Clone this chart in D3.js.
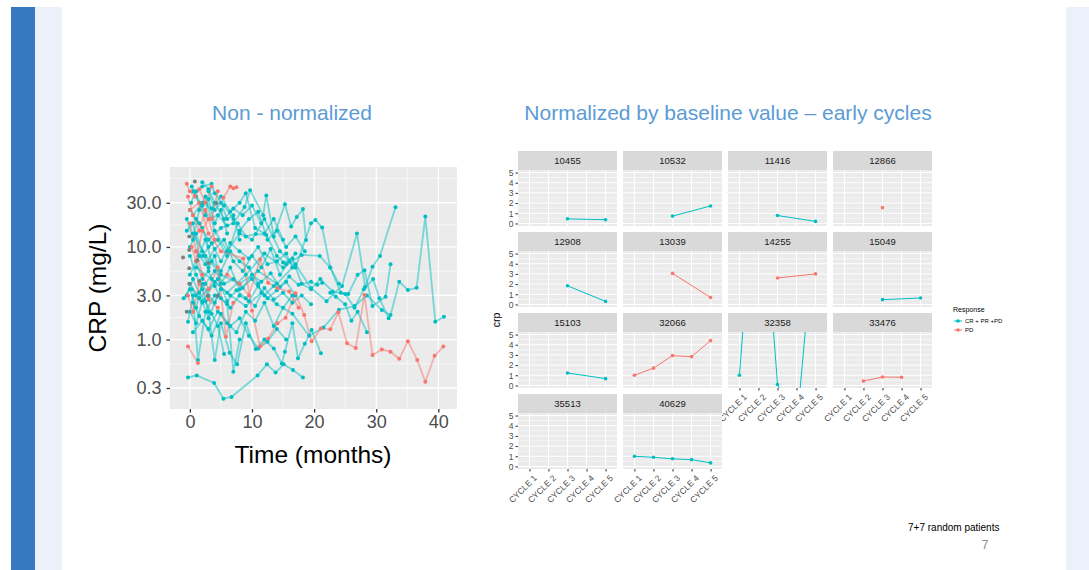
<!DOCTYPE html>
<html>
<head>
<meta charset="utf-8">
<script src="https://cdn.jsdelivr.net/npm/d3@7"></script>
<style>
  body { margin: 0; background: #fff; }
  svg { display: block; font-family: "Liberation Sans", Arial, sans-serif; }
</style>
</head>
<body>
<svg id="slide"></svg>
<script>
// ---------- data ----------
const groupNames = ['CR + PR +PD', 'PD'];
const timeTicks = [0, 10, 20, 30, 40];
const crpTicks = [0.3, 1, 3, 10, 30];

// left chart: one entry per patient, [group, [[month, crp mg/L], ...]]
// R = CR + PR +PD, P = PD, N = missing response
const trajectories = [
  ['R', [[-0.3,0.39],[1.1,0.41],[3.9,0.34],[5.4,0.23],[6.7,0.24],[10.9,0.41],[12.4,0.54],[13.8,0.44],[15.1,0.54],[16.6,0.47],[18.2,0.39]]],
  ['R', [[0.3,3.5],[2,2.5],[4,4.2],[6.5,3],[9,2.3],[11.5,3.2],[14,2.4],[16.5,1.9],[19.2,1.1],[21.5,1.35],[24,2.1],[26.5,2.3],[28.5,3.0],[30.9,2.08],[32.3,1.84],[33.7,4.2],[35.1,3.43],[36.5,3.63],[37.9,21.3],[39.5,1.56],[40.9,1.76]]],
  ['R', [[0.5,14],[2.5,8],[5,5],[8,4],[11,5.5],[14,4],[17,6.5],[19.5,3.6],[22,2.6],[24.5,3.8],[26.9,14],[28.2,3.7],[29.4,6.1],[30.6,8.0],[33.1,26.8]]],
  ['R', [[1,6],[3.5,4.5],[6,3.2],[9,5],[12,8.5],[15,6],[18,8.2],[20.9,8],[22.6,6],[24.3,3.2],[25.5,3.1],[27,5],[28.1,5.6],[29.4,2.3],[31.5,2.9],[32.3,6.5]]],
  ['R', [[0,25],[1.5,18],[3,12],[5,16],[7,18],[8.8,27],[9.7,41],[11.8,22],[12.3,36],[13.5,13],[15.3,29],[16.3,16.6],[17.2,21],[18.2,25.7],[18.7,11.9]]],
  ['R', [[0.2,30],[1,40],[2,45],[3.5,48],[4,38],[5.5,28],[7,20]]],
  ['R', [[-0.5,20],[0.5,12],[1.5,25],[2.5,35],[4,15],[6,9],[8,14],[10,12],[12,20],[14.5,9],[17,6],[19.5,18],[20.2,19.6],[21.3,16.2],[22.6,6],[24,4]]],
  ['R', [[0,8],[1,5],[2,3.5],[3,2],[4,0.6],[5,1.5],[6.4,0.72],[7.6,0.54],[9,1.5],[10.6,0.79],[12,1.0],[13.5,0.8],[14.8,0.55],[15.3,0.74],[16.5,1.5],[17.4,0.63],[18.5,0.9],[19.6,1.27],[21.1,0.71]]],
  ['R', [[-0.3,1.56],[0.5,3],[1.3,0.6],[2.5,2],[4,3]]],
  ['R', [[-1,2.79],[0,3.5],[1,2.2],[2,4],[3,3],[4,2.5],[5,3.5]]],
  ['R', [[0.5,40],[1.5,30],[2.5,22],[3,33],[4,18],[5,25],[6,14]]],
  ['R', [[0,10],[1,14],[2,9],[3,6],[4,8],[5,4],[6.5,6],[8,3.5],[10,4.5],[12,3],[13.5,3.8]]],
  ['R', [[0.5,2.5],[1.5,1.8],[3,1.3],[4.5,2],[6,1.5],[7.5,1.2],[9,2],[10.5,1.6],[12,2.5],[13.5,1.4],[15,2.2],[16.5,3]]],
  ['R', [[1,20],[2,16],[3,10],[4.5,12],[6,8],[7.7,18],[9,13],[10.6,13.8],[12.3,13.5],[14,8],[15.5,6.5],[17,8.5]]],
  ['R', [[-0.5,15],[0.5,18],[1.5,8],[2.5,12],[3.5,7],[5,5.5],[6.5,9],[8,7],[9.5,6],[11,4]]],
  ['R', [[0,5],[1,7],[2,4.5],[3,5.5],[4,3.8],[5,2.8],[6.5,2.2],[8,3],[9.5,2.6],[11,3.8],[12.5,2.8],[14,3.4],[15.5,4.2],[17,3]]],
  ['R', [[0.3,45],[1,35],[2,28],[3,20],[4.5,22],[6,17]]],
  ['R', [[-0.5,3],[0.5,4.5],[1.5,3.2],[2.5,2.6],[3.5,1.9],[4.5,1.4],[5.5,0.7]]],
  ['R', [[2,8],[3.5,11],[5,7],[6.5,11],[8,9],[9.5,7.5],[11,10],[12.5,6.5],[14,7],[15.5,8.5],[16.5,6]]],
  ['R', [[1,3],[2.5,4],[4,5.5],[5.5,4],[7,4.5],[8.5,3.6],[10,5],[11.5,4.2],[13,5.2],[14.5,3.7],[16,4.8],[17.5,3.9],[19.5,4.2],[20.5,3.9],[21.3,4.1]]],
  ['R', [[0.5,1.2],[2,1.6],[3.5,1.1],[5,1.9],[6.5,1.4],[8,1.7],[9.5,1.1],[11,0.8],[12.5,0.95],[14,1.3],[15.5,1.0]]],
  ['R', [[3,40],[4,25],[5,30],[6,20],[7,22],[8,12]]],
  ['R', [[0,2],[1,1.5],[2,2.6],[3,1.7],[4.5,3],[6,2.4],[7,0.45],[8,1.0]]],
  ['R', [[15,6.8],[16.5,7.5],[18,4],[19.5,3.5],[21,4.5],[23,3.3],[25,3.1],[26.5,2.2],[28,3.5],[29.5,4.5],[30.5,2.8],[32,1.7]]],
  ['R', [[22.6,3.2],[23.5,2.9],[25,2.4],[26,1.6],[27,2.0],[28.5,1.2]]],
  ['R', [[0.5,22],[2,30],[3.5,26],[5,35],[6.5,24],[8,30],[9,38],[10.5,16],[12,14],[13.5,20],[15,12]]],
  ['R', [[1,9],[2.5,6.5],[4,9.5],[5.5,12],[7,7],[8.5,5.5],[10,8],[11.5,6],[13,9.5],[14.5,5],[16,7]]],
  ['R', [[0,4],[1.5,2.8],[3,3.5],[4.5,4.5],[6,2.6],[7.5,3.4],[9,2.8],[10.5,2.3],[12,3.6],[13.5,2.7],[15,3.2],[16.5,2.5],[18,3.0],[19.5,2.4]]],
  ['R', [[2,50],[3,42],[4,30],[5.5,20],[7,26],[8.5,22],[10,28],[11.5,18]]],
  ['R', [[8,15],[9.5,20],[11,24],[12.5,12],[14,15],[15.5,10],[17,13],[18.5,9]]],
  ['P', [[-0.3,0.84],[1.3,0.56]]],
  ['P', [[0,25],[1.5,30],[3,14],[5,9],[8.6,7.5],[10.0,2.05],[11.3,0.84],[12.6,1.03],[14.1,1.5],[15.4,1.72],[17.0,3.16],[18.4,1.84],[19.6,0.96],[21.1,1.32],[22.6,1.29],[23.9,1.97],[25.3,0.91],[26.7,0.81],[28.1,3.03],[29.4,0.68],[30.9,0.78],[32.3,0.74],[33.7,0.62],[35.1,0.96],[36.6,0.60],[37.9,0.35],[39.4,0.67],[40.8,0.84]]],
  ['P', [[-0.5,48],[0,40],[0.8,35],[1.5,42],[2.5,30],[3.5,45]]],
  ['P', [[-0.3,35],[0.5,22],[1.5,15],[2.5,25],[3.5,20],[4.5,40]]],
  ['P', [[0,18],[1,9],[2,5],[3,3.5],[4.5,6],[5.8,1.07],[7,2.5]]],
  ['P', [[5.4,34],[6.5,45],[7,43],[7.5,44]]],
  ['P', [[-0.3,3],[0.5,2],[1.5,4],[3,2.7],[4.5,2.2]]],
  ['P', [[0.3,10],[1,7],[2,15],[3,20],[4,12]]],
  ['P', [[6,5],[8,4],[9.5,3],[11.3,7.3],[12.6,4.1],[14.1,3.6],[16,3.3],[17.5,2.2]]],
  ['N', [[-1.1,7.7]]], ['N', [[-0.1,13]]], ['N', [[-0.1,9.3]]], ['N', [[-0.1,5.9]]],
  ['N', [[-0.1,4.0]]], ['N', [[-0.5,2.0]]], ['N', [[1.2,7.2]]], ['N', [[3.0,6.7]]],
  ['N', [[4.3,29.6]]], ['N', [[0.8,51]]], ['N', [[1.5,4.3]]], ['N', [[2.9,2.95]]], ['N', [[4.4,2.95]]]
];

// right chart: crp normalised by baseline, 7+7 random patients
const cycles = ['CYCLE 1', 'CYCLE 2', 'CYCLE 3', 'CYCLE 4', 'CYCLE 5'];
const patientIds = ['10455','10532','11416','12866','12908','13039','14255','15049','15103','32066','32358','33476','35513','40629'];
const patientGroup = ['R','R','R','P','R','P','P','R','R','P','R','P','R','R'];
const crpByCycle = [
  [null, null, 0.45, null, 0.37],
  [null, null, 0.72, null, 1.72],
  [null, null, 0.78, null, 0.2],
  [null, null, 1.55, null, null],
  [null, null, 1.83, null, 0.3],
  [null, null, 3.05, null, 0.68],
  [null, null, 2.6, null, 3.0],
  [null, null, 0.47, null, 0.63],
  [null, null, 1.23, null, 0.67],
  [1.0, 1.7, 2.93, 2.83, 4.4],
  [1.0, 25, 0.1, -4.2, 16.5],
  [null, 0.43, 0.83, 0.8, null],
  [null, null, null, null, null],
  [1.0, 0.9, 0.75, 0.67, 0.35]
];
const facetTicks = [0, 1, 2, 3, 4, 5];

// ---------- page ----------
const W = 1089, H = 570;
const colour = { R: '#00BFC4', P: '#F8766D', N: '#7F7F7F' };
const svg = d3.select('#slide').attr('width', W).attr('height', H);

svg.append('rect').attr('x', 11).attr('y', 7).attr('width', 24).attr('height', H - 7).attr('fill', '#3779C1');
svg.append('rect').attr('x', 35).attr('y', 7).attr('width', 27).attr('height', H - 7).attr('fill', '#EAF1FA');
svg.append('rect').attr('x', 1066).attr('y', 7).attr('width', 23).attr('height', H - 7).attr('fill', '#EAF1FA');

svg.append('text').attr('x', 292).attr('y', 120).attr('text-anchor', 'middle')
  .style('font-size', '21px').style('fill', '#5B9BD5').text('Non - normalized');
svg.append('text').attr('x', 728).attr('y', 120).attr('text-anchor', 'middle')
  .style('font-size', '21px').style('fill', '#5B9BD5').text('Normalized by baseline value \u2013 early cycles');

// ---------- left chart ----------
const L = { left: 170, right: 457, top: 167, bottom: 409 };
const x = d3.scaleLinear().domain([-3.2, 43]).range([L.left, L.right]);
const y = d3.scaleLog().domain([0.178, 73]).range([L.bottom, L.top]);

const left = svg.append('g');
left.append('rect').attr('x', L.left).attr('y', L.top)
  .attr('width', L.right - L.left).attr('height', L.bottom - L.top).attr('fill', '#EBEBEB');

// minor grid: midpoints of the breaks (log space for y)
const lg = crpTicks.map(Math.log10);
const yMinor = lg.slice(1).map((v, i) => Math.pow(10, (v + lg[i]) / 2));
yMinor.push(Math.pow(10, lg[lg.length - 1] + (lg[1] - lg[0]) / 2));
const xMinor = timeTicks.map(t => t + 5);

left.selectAll('.ymin').data(yMinor).enter().append('line')
  .attr('x1', L.left).attr('x2', L.right).attr('y1', d => y(d)).attr('y2', d => y(d))
  .attr('stroke', '#fff').attr('stroke-width', 0.6);
left.selectAll('.xmin').data(xMinor.filter(d => x(d) < L.right)).enter().append('line')
  .attr('y1', L.top).attr('y2', L.bottom).attr('x1', d => x(d)).attr('x2', d => x(d))
  .attr('stroke', '#fff').attr('stroke-width', 0.6);
left.selectAll('.ymaj').data(crpTicks).enter().append('line')
  .attr('x1', L.left).attr('x2', L.right).attr('y1', d => y(d)).attr('y2', d => y(d))
  .attr('stroke', '#fff').attr('stroke-width', 1.3);
left.selectAll('.xmaj').data(timeTicks).enter().append('line')
  .attr('y1', L.top).attr('y2', L.bottom).attr('x1', d => x(d)).attr('x2', d => x(d))
  .attr('stroke', '#fff').attr('stroke-width', 1.3);

const line = d3.line().x(d => x(d[0])).y(d => y(d[1]));
left.selectAll('.traj').data(trajectories).enter().append('path')
  .attr('d', d => line(d[1]))
  .attr('fill', 'none').attr('stroke', d => colour[d[0]])
  .attr('stroke-width', 1.8).attr('stroke-opacity', 0.5);
const pts = trajectories.flatMap(d => d[1].map(p => [d[0], p[0], p[1]]));
left.selectAll('.pt').data(pts).enter().append('circle')
  .attr('cx', d => x(d[1])).attr('cy', d => y(d[2])).attr('r', 2)
  .attr('fill', d => colour[d[0]]);

const xAxis = left.append('g').attr('transform', `translate(0,${L.bottom})`)
  .call(d3.axisBottom(x).tickValues(timeTicks).tickSize(3.5).tickPadding(3));
const yAxis = left.append('g').attr('transform', `translate(${L.left},0)`)
  .call(d3.axisLeft(y).tickValues(crpTicks).tickFormat(d3.format('.1f')).tickSize(3.5).tickPadding(5));
[xAxis, yAxis].forEach(a => {
  a.select('.domain').remove();
  a.selectAll('line').attr('stroke', '#333').attr('stroke-width', 1.3);
  a.selectAll('text').style('font-size', '18px').style('fill', '#4D4D4D')
    .style('font-family', '"Liberation Sans", Arial, sans-serif');
});

left.append('text').attr('x', 313).attr('y', 463).attr('text-anchor', 'middle')
  .style('font-size', '24.5px').style('fill', '#000').text('Time (months)');
left.append('text').attr('transform', 'translate(106,288) rotate(-90)').attr('text-anchor', 'middle')
  .style('font-size', '24.5px').style('fill', '#000').text('CRP (mg/L)');

// ---------- right chart: facets ----------
const colX = [518, 623, 728, 833];
const rowY = [151, 232, 313, 394];
const panelW = 99, stripH = 19, panelH = 56;
const fx = d3.scalePoint().domain(cycles).range([0, panelW]).padding(0.6);
const fy = d3.scaleLinear().domain([-0.25, 5.25]).range([panelH, 0]);
const fMinor = facetTicks.slice(1).map(t => t - 0.5);
const right = svg.append('g');
const defs = svg.append('defs');

patientIds.forEach((id, i) => {
  const col = i % 4, row = Math.floor(i / 4);
  const px = colX[col], py = rowY[row] + stripH;
  const g = right.append('g').attr('transform', `translate(${px},${py})`);

  defs.append('clipPath').attr('id', 'clip' + i)
    .append('rect').attr('width', panelW).attr('height', panelH);

  right.append('rect').attr('x', px).attr('y', rowY[row]).attr('width', panelW).attr('height', stripH)
    .attr('fill', '#D9D9D9');
  right.append('text').attr('x', px + panelW / 2).attr('y', rowY[row] + 13).attr('text-anchor', 'middle')
    .style('font-size', '9.5px').style('fill', '#1A1A1A').text(id);

  g.append('rect').attr('width', panelW).attr('height', panelH).attr('fill', '#EBEBEB');
  g.selectAll('.mn').data(fMinor).enter().append('line')
    .attr('x1', 0).attr('x2', panelW).attr('y1', d => fy(d)).attr('y2', d => fy(d))
    .attr('stroke', '#fff').attr('stroke-width', 0.5);
  g.selectAll('.mj').data(facetTicks).enter().append('line')
    .attr('x1', 0).attr('x2', panelW).attr('y1', d => fy(d)).attr('y2', d => fy(d))
    .attr('stroke', '#fff').attr('stroke-width', 1);
  g.selectAll('.vj').data(cycles).enter().append('line')
    .attr('y1', 0).attr('y2', panelH).attr('x1', d => fx(d)).attr('x2', d => fx(d))
    .attr('stroke', '#fff').attr('stroke-width', 1);

  const vals = cycles.map((c, k) => [c, crpByCycle[i][k]]).filter(d => d[1] !== null);
  const plot = g.append('g').attr('clip-path', `url(#clip${i})`);
  plot.append('path')
    .attr('d', d3.line().x(d => fx(d[0])).y(d => fy(d[1]))(vals))
    .attr('fill', 'none').attr('stroke', colour[patientGroup[i]]).attr('stroke-width', 1);
  plot.selectAll('circle').data(vals).enter().append('circle')
    .attr('cx', d => fx(d[0])).attr('cy', d => fy(d[1])).attr('r', 1.8)
    .attr('fill', colour[patientGroup[i]]);

  if (col === 0) {
    const ya = g.append('g').call(d3.axisLeft(fy).tickValues(facetTicks)
      .tickFormat(d3.format('d')).tickSize(2.5).tickPadding(2));
    ya.select('.domain').remove();
    ya.selectAll('line').attr('stroke', '#333');
    ya.selectAll('text').style('font-size', '8.5px').style('fill', '#4D4D4D')
      .style('font-family', '"Liberation Sans", Arial, sans-serif');
  }
  const bottomRow = col < 2 ? 3 : 2;
  if (row === bottomRow) {
    const xa = g.append('g').attr('transform', `translate(0,${panelH})`)
      .call(d3.axisBottom(fx).tickSize(2.5).tickPadding(2));
    xa.select('.domain').remove();
    xa.selectAll('line').attr('stroke', '#333');
    xa.selectAll('text')
      .attr('text-anchor', 'end').attr('dy', null).attr('y', null)
      .attr('transform', 'translate(3,5) rotate(-45)')
      .attr('dominant-baseline', 'hanging')
      .style('font-size', '8.5px').style('fill', '#4D4D4D')
      .style('font-family', '"Liberation Sans", Arial, sans-serif');
  }
});

right.append('text').attr('transform', 'translate(500,320) rotate(-90)').attr('text-anchor', 'middle')
  .style('font-size', '10.5px').style('fill', '#000').text('crp');

// legend
const leg = right.append('g').attr('transform', 'translate(953,312)');
leg.append('text').attr('x', 0).attr('y', 0).style('font-size', '7px').style('fill', '#000').text('Response');
const legItems = leg.selectAll('.li').data(['R', 'P']).enter().append('g')
  .attr('transform', (d, k) => `translate(0,${9 + k * 9})`);
legItems.append('line').attr('x1', 1).attr('x2', 9).attr('y1', 0).attr('y2', 0)
  .attr('stroke', d => colour[d]).attr('stroke-width', 1);
legItems.append('circle').attr('cx', 5).attr('cy', 0).attr('r', 1.8).attr('fill', d => colour[d]);
legItems.append('text').attr('x', 12).attr('y', 2.2).style('font-size', '6px').style('fill', '#000')
  .text((d, k) => groupNames[k]);

svg.append('text').attr('x', 908).attr('y', 531).style('font-size', '10px').style('fill', '#000')
  .text('7+7 random patients');
svg.append('text').attr('x', 985).attr('y', 549).attr('text-anchor', 'middle')
  .style('font-size', '12px').style('fill', '#8C8C8C').text('7');
</script>
</body>
</html>
